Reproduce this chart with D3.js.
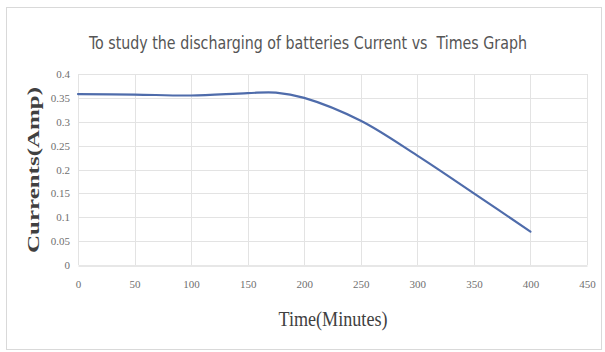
<!DOCTYPE html>
<html>
<head>
<meta charset="utf-8">
<script src="https://cdn.jsdelivr.net/npm/d3@7/dist/d3.min.js"></script>
<style>
  html, body { margin: 0; padding: 0; background: #fff; }
  svg { display: block; }
</style>
</head>
<body>
<script>
// Battery discharge measurements: time in minutes, current in amps
const timeMinutes = [0, 50, 100, 150, 175, 200, 250, 300, 350, 400];
const currentAmp  = [0.358, 0.357, 0.355, 0.360, 0.361, 0.350, 0.302, 0.229, 0.150, 0.070];

const xTicks = [0, 50, 100, 150, 200, 250, 300, 350, 400, 450];
const yTicks = [0, 0.05, 0.1, 0.15, 0.2, 0.25, 0.3, 0.35, 0.4];

const titleText = "To study the discharging of batteries Current vs  Times Graph";
const xLabelText = "Time(Minutes)";
const yLabelText = "Currents(Amp)";

const W = 605, H = 352;
const plot = { left: 78, right: 587, top: 74, bottom: 265 };

const svg = d3.select("body").append("svg")
  .attr("width", W).attr("height", H);

// chart frame
svg.append("rect")
  .attr("x", 6.5).attr("y", 7.5)
  .attr("width", 595).attr("height", 342)
  .attr("fill", "#fff").attr("stroke", "#d9d9d9").attr("stroke-width", 1);

const x = d3.scaleLinear().domain([0, 450]).range([plot.left, plot.right]);
const y = d3.scaleLinear().domain([0, 0.4]).range([plot.bottom, plot.top]);

// gridlines
const grid = svg.append("g").attr("stroke", "#e3e3e3").attr("stroke-width", 1);
grid.selectAll("line.h").data(yTicks.slice(1)).join("line")
  .attr("class", "h")
  .attr("x1", plot.left).attr("x2", plot.right)
  .attr("y1", d => Math.round(y(d)) + 0.5).attr("y2", d => Math.round(y(d)) + 0.5);
grid.selectAll("line.v").data(xTicks).join("line")
  .attr("class", "v")
  .attr("y1", plot.top).attr("y2", plot.bottom)
  .attr("x1", d => Math.round(x(d)) + 0.5).attr("x2", d => Math.round(x(d)) + 0.5);

// x axis
const xAxis = svg.append("g")
  .attr("transform", `translate(0,${Math.round(plot.bottom) + 0.5})`)
  .call(d3.axisBottom(x).tickValues(xTicks).tickSize(0).tickPadding(15)
    .tickFormat(d3.format("d")));
xAxis.select(".domain").attr("stroke", "#cfcfcf");
xAxis.selectAll("text")
  .attr("fill", "#6f6f6f")
  .style("font-family", "'Liberation Serif', 'DejaVu Serif', serif")
  .style("font-size", "11px");

// y axis
const yAxis = svg.append("g")
  .attr("transform", `translate(${plot.left - 8},0)`)
  .call(d3.axisLeft(y).tickValues(yTicks).tickSize(0).tickPadding(0)
    .tickFormat(d => d === 0 ? "0" : d3.format("")(+d.toFixed(2))));
yAxis.select(".domain").remove();
yAxis.selectAll("text")
  .attr("fill", "#6f6f6f")
  .style("font-family", "'Liberation Serif', 'DejaVu Serif', serif")
  .style("font-size", "11px");

// discharge curve
const line = d3.line()
  .x((d, i) => x(timeMinutes[i]))
  .y(d => y(d))
  .curve(d3.curveCatmullRom.alpha(0.5));

svg.append("path")
  .datum(currentAmp)
  .attr("d", line)
  .attr("fill", "none")
  .attr("stroke", "#4f6cab")
  .attr("stroke-width", 2.2)
  .attr("stroke-linecap", "round");

// title
svg.append("text")
  .attr("x", 308).attr("y", 49)
  .attr("text-anchor", "middle")
  .attr("textLength", 438).attr("lengthAdjust", "spacingAndGlyphs")
  .attr("fill", "#555555")
  .style("white-space", "pre")
  .style("font-family", "'Liberation Sans Narrow', 'DejaVu Sans Condensed', 'Open Sans', sans-serif")
  .style("font-size", "18px")
  .text(titleText);

// x axis title
svg.append("text")
  .attr("x", 333).attr("y", 326)
  .attr("text-anchor", "middle")
  .attr("textLength", 109).attr("lengthAdjust", "spacingAndGlyphs")
  .attr("fill", "#404040")
  .style("font-family", "'Liberation Serif', 'DejaVu Serif', serif")
  .style("font-size", "20px")
  .text(xLabelText);

// y axis title
svg.append("text")
  .attr("transform", "translate(39,170) rotate(-90)")
  .attr("text-anchor", "middle")
  .attr("textLength", 166).attr("lengthAdjust", "spacingAndGlyphs")
  .attr("fill", "#404040")
  .style("font-family", "'Liberation Serif', 'DejaVu Serif', serif")
  .style("font-weight", "bold")
  .style("font-size", "17px")
  .text(yLabelText);
</script>
</body>
</html>
